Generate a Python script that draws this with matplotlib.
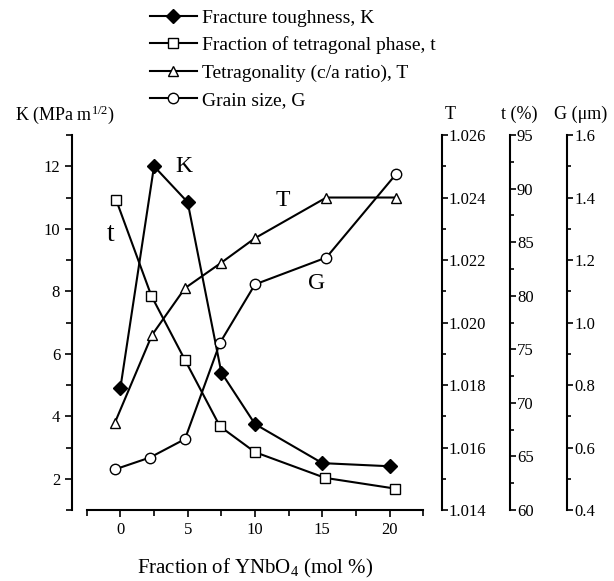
import matplotlib
matplotlib.use("Agg")
import matplotlib.pyplot as plt
from matplotlib.ticker import MultipleLocator, FormatStrFormatter

# Дані
x_K = [0, 2.5, 5, 7.5, 10, 15, 20]
K = [4.9, 12.0, 10.85, 5.4, 3.75, 2.5, 2.4]
x_t = [-0.3, 2.3, 4.8, 7.4, 10, 15.2, 20.4]
t = [88.9, 80.0, 74.0, 67.8, 65.4, 63.0, 62.0]
x_T = [-0.4, 2.35, 4.8, 7.45, 10, 15.3, 20.5]
T = [1.0168, 1.0196, 1.0211, 1.0219, 1.0227, 1.0240, 1.0240]
x_G = [-0.4, 2.2, 4.8, 7.4, 10, 15.3, 20.5]
G = [0.53, 0.568, 0.627, 0.935, 1.122, 1.208, 1.476]

legend_labels = ["Fracture toughness, K",
                 "Fraction of tetragonal phase, t",
                 "Tetragonality (c/a ratio), T",
                 "Grain size, G"]

plt.rcParams['font.family'] = ['Liberation Serif', 'DejaVu Serif']
plt.rcParams['mathtext.fontset'] = 'custom'
plt.rcParams['mathtext.rm'] = 'Liberation Serif'
plt.rcParams['mathtext.it'] = 'Liberation Serif:italic'


# Додаткова вісь справа зі своєю шкалою
def right_axis(ax, pos, lim, major, minor, fmt):
    tw = ax.twinx()
    tw.set_ylim(lim)
    for s in ['top', 'bottom', 'left']:
        tw.spines[s].set_visible(False)
    tw.spines['right'].set_position(('axes', pos))
    tw.spines['right'].set_linewidth(1.5)
    tw.yaxis.set_major_locator(MultipleLocator(major))
    tw.yaxis.set_minor_locator(MultipleLocator(minor))
    tw.yaxis.set_major_formatter(FormatStrFormatter(fmt))
    tw.tick_params(axis='y', which='both', direction='out', width=1.2, labelsize=12, pad=1)
    tw.tick_params(axis='y', which='major', length=4)
    tw.tick_params(axis='y', which='minor', length=3)
    return tw


def plot():
    fig = plt.figure(figsize=(6.14, 5.81), dpi=100)
    ax = fig.add_axes([0.1412, 0.1222, 0.5482, 0.6454])

    # Основна вісь K
    ax.set_xlim(-2.5, 22.5)
    ax.set_ylim(1, 13)
    ax.spines['top'].set_visible(False)
    ax.spines['right'].set_visible(False)
    ax.spines['left'].set_position(('outward', 10.6))
    ax.spines['left'].set_linewidth(1.5)
    ax.spines['bottom'].set_linewidth(1.5)
    ax.xaxis.set_major_locator(MultipleLocator(5))
    ax.xaxis.set_minor_locator(MultipleLocator(2.5))
    ax.yaxis.set_major_locator(MultipleLocator(2))
    ax.yaxis.set_minor_locator(MultipleLocator(1))
    ax.tick_params(which='both', direction='out', width=1.2, labelsize=12)
    ax.tick_params(which='major', length=5)
    ax.tick_params(which='minor', length=4)
    ax.set_yticks([2, 4, 6, 8, 10, 12])

    l1, = ax.plot(x_K, K, color='black', lw=1.5, marker='D', ms=7,
                  mfc='black', mec='black', clip_on=False)

    # Додаткові осі T, t, G
    axT = right_axis(ax, 1.0556, (1.014, 1.026), 0.002, 0.001, '%.3f')
    axt = right_axis(ax, 1.2576, (60, 95), 5, 2.5, '%d')
    axG = right_axis(ax, 1.4278, (0.4, 1.6), 0.2, 0.1, '%.1f')

    l2, = axt.plot(x_t, t, color='black', lw=1.5, marker='s', ms=6.5,
                   mfc='white', mec='black', mew=1.0, clip_on=False)
    l3, = axT.plot(x_T, T, color='black', lw=1.5, marker='^', ms=7.5,
                   mfc='white', mec='black', mew=1.0, clip_on=False)
    l4, = axG.plot(x_G, G, color='black', lw=1.5, marker='o', ms=7.5,
                   mfc='white', mec='black', mew=1.0, clip_on=False)

    # Підписи кривих
    ax.text(4.7, 12.0, "K", fontsize=17, ha='center', va='center')
    ax.text(-0.74, 9.82, "t", fontsize=20, ha='center', va='center')
    ax.text(12.1, 10.89, "T", fontsize=17, ha='center', va='center')
    ax.text(14.57, 8.26, "G", fontsize=17, ha='center', va='center')

    # Назви осей
    fig.text(0.025, 0.803, "K (MPa m$^{\\mathrm{1/2}}$)", fontsize=13, va='center', ha='left')
    fig.text(450 / 614, 0.803, "T", fontsize=13, va='center', ha='center')
    fig.text(519 / 614, 0.803, "t (%)", fontsize=13, va='center', ha='center')
    fig.text(581 / 614, 0.803, "G (\u03bcm)", fontsize=13, va='center', ha='center')
    fig.text(255 / 614, 0.0224, "Fraction of YNbO$_4$ (mol %)", fontsize=15,
             va='center', ha='center')

    fig.legend([l1, l2, l3, l4], legend_labels, loc='upper left',
               bbox_to_anchor=(150 / 614, 1 - 9 / 581), frameon=False,
               fontsize=14, handlelength=2.4, handletextpad=0.3,
               labelspacing=0.5, borderpad=0, borderaxespad=0)

    fig.savefig("out.png", dpi=100)
    plt.close(fig)


def main():
    plot()


if __name__ == "__main__":
    main()
